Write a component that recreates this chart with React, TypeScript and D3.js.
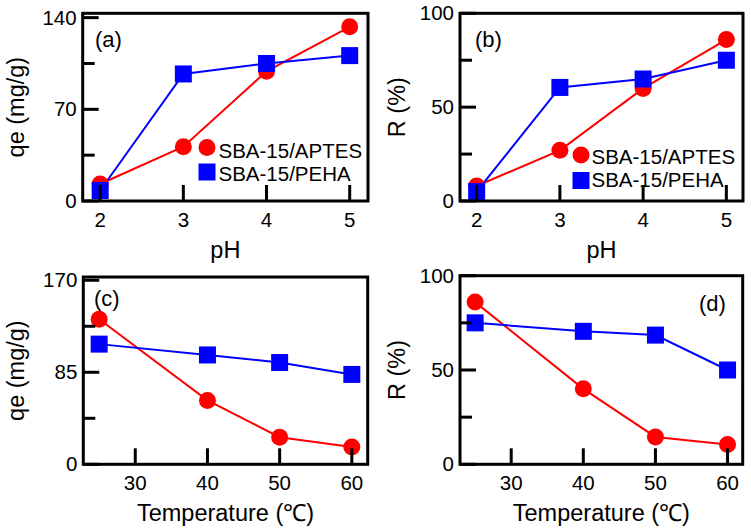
import React from "react";
import * as d3 from "d3";

const phValues = [2, 3, 4, 5];
const tempValues = [25, 40, 50, 60];
const qePhAptes = [13, 41.5, 99, 133];
const qePhPeha = [8, 97, 105, 111];
const rPhAptes = [8, 27, 60, 86];
const rPhPeha = [5, 60.5, 65, 75];
const qeTempAptes = [134, 59, 25, 16];
const qeTempPeha = [111, 101, 94, 83];
const rTempAptes = [86, 40, 14.5, 10.5];
const rTempPeha = [75, 70.5, 68.5, 50];

const phTicks = [2, 3, 4, 5];
const tempTicks = [30, 40, 50, 60];
const qePhTicks = [0, 70, 140];
const qePhMinor = [35, 105];
const rTicks = [0, 50, 100];
const rMinor = [25, 75];
const qeTempTicks = [0, 85, 170];
const qeTempMinor = [42.5, 127.5];

const seriesNames = ["SBA-15/APTES", "SBA-15/PEHA"];
const RED = "#ff0000";
const BLUE = "#0000ff";
const FONT = "'Liberation Sans', Arial, Helvetica, sans-serif";
const TICK_FS = 20.5;
const TITLE_FS = 23.5;
const LEG_FS = 20.5;
const LABEL_FS = 22;

type PanelCfg = {
  left: number; right: number; top: number; bottom: number;
  xDomain: [number, number]; yDomain: [number, number];
  xs: number[]; a: number[]; p: number[];
  xTicks: number[]; yTicks: number[]; yMinor: number[];
  xTitle: string; yTitle: string; yTitleX: number;
  label: string; labelX: number; labelY: number;
  legend?: { cx: number; cy1: number; cy2: number; tx: number; ty1: number; ty2: number };
};

const panels: PanelCfg[] = [
  {
    left: 82.7, right: 368, top: 13.3, bottom: 201,
    xDomain: [1.79, 5.22], yDomain: [0, 143.3],
    xs: phValues, a: qePhAptes, p: qePhPeha,
    xTicks: phTicks, yTicks: qePhTicks, yMinor: qePhMinor,
    xTitle: "pH", yTitle: "qe (mg/g)", yTitleX: 24,
    label: "(a)", labelX: 95, labelY: 47,
    legend: { cx: 207, cy1: 147.5, cy2: 172, tx: 218.5, ty1: 158, ty2: 181 },
  },
  {
    left: 460, right: 743, top: 13.3, bottom: 201,
    xDomain: [1.8, 5.2], yDomain: [0, 100],
    xs: phValues, a: rPhAptes, p: rPhPeha,
    xTicks: phTicks, yTicks: rTicks, yMinor: rMinor,
    xTitle: "pH", yTitle: "R (%)", yTitleX: 405,
    label: "(b)", labelX: 475, labelY: 47,
    legend: { cx: 581, cy1: 155, cy2: 180.5, tx: 591.5, ty1: 164, ty2: 187 },
  },
  {
    left: 83.3, right: 367.7, top: 277, bottom: 464.3,
    xDomain: [22.8, 62.2], yDomain: [0, 173],
    xs: tempValues, a: qeTempAptes, p: qeTempPeha,
    xTicks: tempTicks, yTicks: qeTempTicks, yMinor: qeTempMinor,
    xTitle: "Temperature (\u2103)", yTitle: "qe (mg/g)", yTitleX: 24,
    label: "(c)", labelX: 94, labelY: 306,
  },
  {
    left: 460, right: 742.7, top: 275.7, bottom: 464.3,
    xDomain: [22.9, 62.1], yDomain: [0, 100],
    xs: tempValues, a: rTempAptes, p: rTempPeha,
    xTicks: tempTicks, yTicks: rTicks, yMinor: rMinor,
    xTitle: "Temperature (\u2103)", yTitle: "R (%)", yTitleX: 405,
    label: "(d)", labelX: 699, labelY: 311,
  },
];

const R = 8.5;
const S = 17;

function Panel({ cfg }: { cfg: PanelCfg }) {
  const x = d3.scaleLinear().domain(cfg.xDomain).range([cfg.left, cfg.right]);
  const y = d3.scaleLinear().domain(cfg.yDomain).range([cfg.bottom, cfg.top]);
  const line = d3.line<[number, number]>().x((d) => x(d[0])).y((d) => y(d[1]));
  const aPts: [number, number][] = cfg.xs.map((v, i) => [v, cfg.a[i]]);
  const pPts: [number, number][] = cfg.xs.map((v, i) => [v, cfg.p[i]]);
  const midX = (cfg.left + cfg.right) / 2;
  const midY = (cfg.top + cfg.bottom) / 2;
  return (
    <g>
      <path d={line(aPts) || ""} fill="none" stroke={RED} strokeWidth={2} />
      <path d={line(pPts) || ""} fill="none" stroke={BLUE} strokeWidth={2} />
      {aPts.map((d, i) => (
        <circle key={"a" + i} cx={x(d[0])} cy={y(d[1])} r={R} fill={RED} />
      ))}
      {pPts.map((d, i) => (
        <rect key={"p" + i} x={x(d[0]) - S / 2} y={y(d[1]) - S / 2} width={S} height={S} fill={BLUE} />
      ))}
      {cfg.xTicks.map((t) => (
        <line key={"xt" + t} x1={x(t)} x2={x(t)} y1={cfg.bottom} y2={cfg.bottom - 16} stroke="#000" strokeWidth={3} />
      ))}
      {cfg.yTicks.map((t) => (
        <line key={"yt" + t} x1={cfg.left} x2={cfg.left + 16} y1={y(t)} y2={y(t)} stroke="#000" strokeWidth={3} />
      ))}
      {cfg.yMinor.map((t) => (
        <line key={"ym" + t} x1={cfg.left} x2={cfg.left + 12} y1={y(t)} y2={y(t)} stroke="#000" strokeWidth={3} />
      ))}
      <rect x={cfg.left} y={cfg.top} width={cfg.right - cfg.left} height={cfg.bottom - cfg.top} fill="none" stroke="#000" strokeWidth={3} />
      {cfg.xTicks.map((t) => (
        <text key={"xl" + t} x={x(t)} y={cfg.bottom + 26} textAnchor="middle" fontSize={TICK_FS} fontFamily={FONT}>{t}</text>
      ))}
      {cfg.yTicks.map((t) => (
        <text key={"yl" + t} x={cfg.left - 6} y={y(t) + 7} textAnchor="end" fontSize={TICK_FS} fontFamily={FONT}>{t}</text>
      ))}
      <text x={midX} y={cfg.bottom + 57} textAnchor="middle" fontSize={TITLE_FS} fontFamily={FONT}>{cfg.xTitle}</text>
      <text transform={`translate(${cfg.yTitleX},${midY}) rotate(-90)`} textAnchor="middle" fontSize={TITLE_FS} fontFamily={FONT}>{cfg.yTitle}</text>
      <text x={cfg.labelX} y={cfg.labelY} fontSize={LABEL_FS} fontFamily={FONT}>{cfg.label}</text>
      {cfg.legend && (
        <g>
          <circle cx={cfg.legend.cx} cy={cfg.legend.cy1} r={R} fill={RED} />
          <rect x={cfg.legend.cx - S / 2} y={cfg.legend.cy2 - S / 2} width={S} height={S} fill={BLUE} />
          <text x={cfg.legend.tx} y={cfg.legend.ty1} fontSize={LEG_FS} fontFamily={FONT}>{seriesNames[0]}</text>
          <text x={cfg.legend.tx} y={cfg.legend.ty2} fontSize={LEG_FS} fontFamily={FONT}>{seriesNames[1]}</text>
        </g>
      )}
    </g>
  );
}

export default function App() {
  return (
    <svg width={751} height={530} style={{ position: "absolute", left: 0, top: 0, background: "#fff" }}>
      <rect x={0} y={0} width={751} height={530} fill="#fff" />
      {panels.map((p, i) => (
        <Panel key={i} cfg={p} />
      ))}
    </svg>
  );
}
